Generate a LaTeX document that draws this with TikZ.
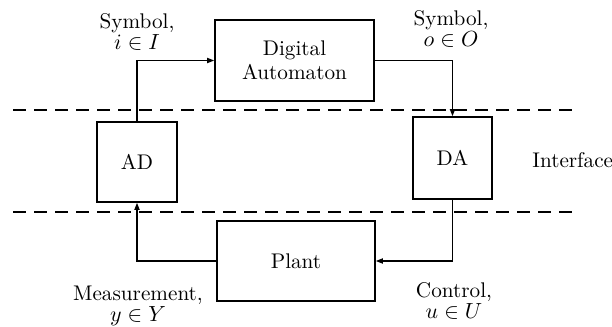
\documentclass[tikz,border=0pt]{standalone}
\usetikzlibrary{arrows.meta}
\begin{document}
\begin{tikzpicture}[x=0.5pt,y=-0.5pt,
  font=\fontsize{10.6}{10.8}\selectfont,
  blk/.style={draw,line width=0.75pt,inner sep=0pt},
  arr/.style={line width=0.6pt,-{Triangle[length=3.6pt,width=2.6pt]}},
  sep/.style={dashed,line width=0.65pt,dash pattern=on 6.5pt off 4pt},
  lbl/.style={align=center,inner sep=0pt}]
  \useasboundingbox (0,0) rectangle (612,327);

  % blocks
  \node[blk,minimum width=79.5pt,minimum height=40.5pt,align=center] (dig) at (294.5,60.5) {Digital\\[1pt]Automaton};
  \node[blk,minimum width=40pt,minimum height=40pt] (ad) at (137,162) {AD};
  \node[blk,minimum width=39.5pt,minimum height=41pt] (da) at (452.5,158) {DA};
  \node[blk,minimum width=79pt,minimum height=40pt] (plant) at (296,261) {Plant};

  % interface boundaries
  \coordinate (s1a) at (13,110);
  \coordinate (s1b) at (577,110);
  \coordinate (s2a) at (13,212);
  \coordinate (s2b) at (578,212);
  \draw[sep] (s1a) -- (s1b);
  \draw[sep] (s2a) -- (s2b);

  % signal flow
  \draw[arr] (ad.north) |- (dig.west);
  \draw[arr] (dig.east) -| (da.north);
  \draw[arr] (da.south) |- (plant.east);
  \draw[arr] (plant.west) -| (ad.south);

  % labels
  \node[lbl] (li) at (137,32) {Symbol,\\$i\in I$};
  \node[lbl] (lo) at (451,29) {Symbol,\\$o\in O$};
  \node[lbl,anchor=west] (lif) at (532,160) {Interface};
  \node[lbl] (ly) at (138,306) {Measurement,\\$y\in Y$};
  \node[lbl] (lu) at (454,301) {Control,\\$u\in U$};
\end{tikzpicture}
\end{document}
